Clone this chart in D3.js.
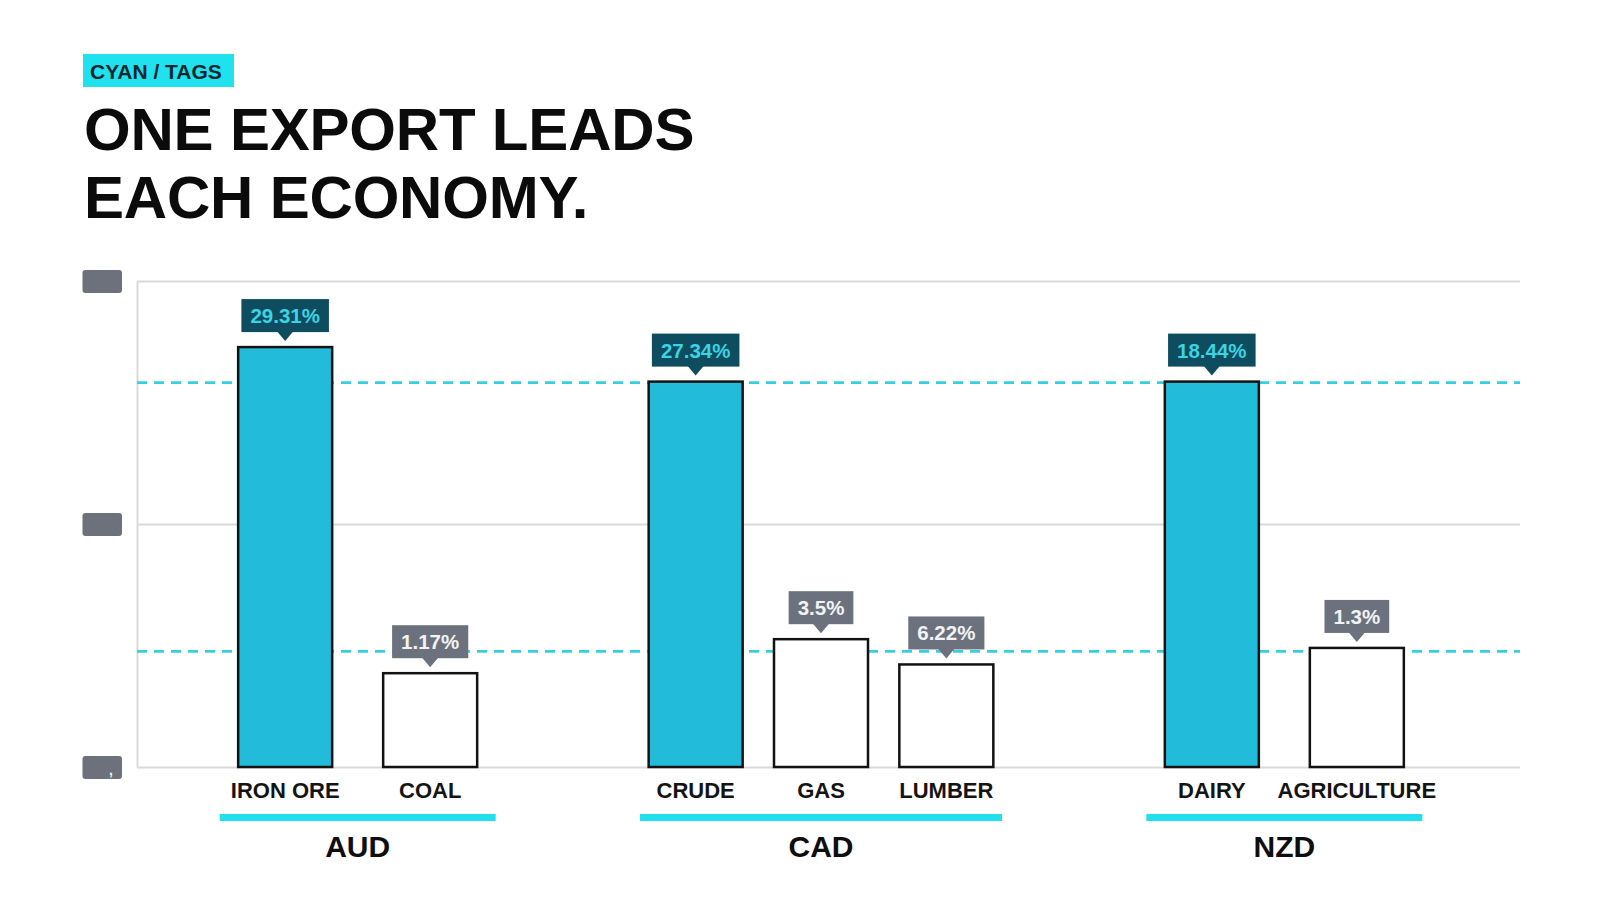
<!DOCTYPE html>
<html>
<head>
<meta charset="utf-8">
<script src="https://cdn.jsdelivr.net/npm/d3@7"></script>
<style>
  body { margin: 0; background: #fff; }
  svg { display: block; }
  text { font-family: "Liberation Sans", Arial, sans-serif; }
</style>
</head>
<body>
<svg id="chart" width="1600" height="914"></svg>
<script>
if (!d3) {
    throw new Error("d3 failed to load");
}

// data
const groups = ["AUD", "CAD", "NZD"];
const items = ["IRON ORE", "COAL", "CRUDE", "GAS", "LUMBER", "DAIRY", "AGRICULTURE"];
const itemGroup = ["AUD", "AUD", "CAD", "CAD", "CAD", "NZD", "NZD"];
const shares = [29.31, 1.17, 27.34, 3.5, 6.22, 18.44, 1.3];      // tag values, %
const barLevels = [86.4, 19.3, 79.3, 26.3, 21.1, 79.3, 24.5];    // drawn height, axis units
const leaders = [true, false, true, false, false, true, false];
const refLines = [79.1, 23.8];
const yTicks = [0, 50, 100];
const yTickLabels = [",", "", ""];

const svg = d3.select("#chart");
const plot = { left: 137, right: 1520, top: 281, bottom: 767 };
const barW = 94;

const y = d3.scaleLinear().domain([0, 100]).range([plot.bottom, plot.top]);
const x0 = d3.scaleBand().domain(groups).range([126, 1516]);

// inner scale for each currency
const inner = {};
groups.forEach(g => {
    const members = items.filter((d, i) => itemGroup[i] === g);
    const c = x0(g) + x0.bandwidth() / 2;
    const w = 118 + 86 * members.length;
    inner[g] = { c: c, w: w, scale: d3.scaleBand().domain(members).range([c - w / 2, c + w / 2]) };
});
const cx = (i) => {
    const s = inner[itemGroup[i]].scale;
    return s(items[i]) + s.bandwidth() / 2;
};

// header
svg.append("rect")
    .attr("x", 83).attr("y", 54).attr("width", 151).attr("height", 33)
    .attr("fill", "#20e2ef");
svg.append("text")
    .attr("x", 90).attr("y", 78.5)
    .attr("font-size", 21).attr("font-weight", "bold")
    .attr("fill", "#10262e")
    .text("CYAN / TAGS");

svg.append("text")
    .attr("font-size", 60).attr("font-weight", "bold")
    .attr("letter-spacing", -0.2)
    .attr("fill", "#0b0b0b")
    .selectAll("tspan")
    .data(["ONE EXPORT LEADS", "EACH ECONOMY."])
    .join("tspan")
    .attr("x", 84)
    .attr("y", (d, i) => 149.5 + i * 68)
    .text(d => d);

// axis + grid
const yAxis = d3.axisLeft(y)
    .tickValues(yTicks)
    .tickSize(-(plot.right - plot.left))
    .tickSizeOuter(0)
    .tickFormat((d, i) => yTickLabels[i]);

const ga = svg.append("g")
    .attr("transform", `translate(${plot.left},0)`)
    .call(yAxis);
ga.select(".domain").attr("stroke", "#dadada").attr("stroke-width", 2);
ga.selectAll(".tick line").attr("stroke", "#dadada").attr("stroke-width", 2);
ga.selectAll(".tick").insert("rect", "text")
    .attr("x", -54.5).attr("y", -11.5)
    .attr("width", 39.5).attr("height", 23).attr("rx", 3)
    .attr("fill", "#6c717b");
ga.selectAll(".tick text")
    .attr("x", -28).attr("dy", "0.55em")
    .attr("text-anchor", "start")
    .attr("font-size", 14).attr("font-weight", "bold")
    .attr("fill", "#f2f3f5");

// reference lines
svg.append("g").selectAll("line")
    .data(refLines)
    .join("line")
    .attr("x1", plot.left).attr("x2", plot.right)
    .attr("y1", d => y(d)).attr("y2", d => y(d))
    .attr("stroke", "#36cfdf").attr("stroke-width", 2.8)
    .attr("stroke-dasharray", "10 7");

// bars
svg.append("g").selectAll("rect")
    .data(items)
    .join("rect")
    .attr("x", (d, i) => cx(i) - barW / 2)
    .attr("y", (d, i) => y(barLevels[i]))
    .attr("width", barW)
    .attr("height", (d, i) => y(0) - y(barLevels[i]))
    .attr("fill", (d, i) => leaders[i] ? "#22bcda" : "#fff")
    .attr("stroke", "#121212").attr("stroke-width", 2.5);

// value tags
const tags = svg.append("g").selectAll("g")
    .data(items)
    .join("g")
    .attr("transform", (d, i) => `translate(${cx(i)},${y(barLevels[i])})`);

tags.append("text")
    .attr("text-anchor", "middle")
    .attr("y", -24)
    .attr("font-size", 20.5).attr("font-weight", "bold")
    .attr("fill", (d, i) => leaders[i] ? "#3ad4e4" : "#f2f3f5")
    .text((d, i) => shares[i] + "%");

tags.each(function(d, i) {
    const g = d3.select(this);
    const tw = g.select("text").node().getComputedTextLength();
    const fill = leaders[i] ? "#0e4c5f" : "#6c727d";
    g.insert("rect", "text")
        .attr("x", -tw / 2 - 9).attr("y", -48)
        .attr("width", tw + 18).attr("height", 33)
        .attr("fill", fill);
    g.insert("path", "text")
        .attr("d", "M-8,-15.5L8,-15.5L0,-6Z")
        .attr("fill", fill);
});

// item labels
svg.append("g").selectAll("text")
    .data(items)
    .join("text")
    .attr("x", (d, i) => cx(i))
    .attr("y", 798)
    .attr("text-anchor", "middle")
    .attr("font-size", 22).attr("font-weight", "bold")
    .attr("fill", "#141414")
    .text(d => d);

// currency groups
svg.append("g").selectAll("rect")
    .data(groups)
    .join("rect")
    .attr("x", g => inner[g].c - (inner[g].w - 14) / 2)
    .attr("y", 814)
    .attr("width", g => inner[g].w - 14)
    .attr("height", 7)
    .attr("fill", "#22dfed");

svg.append("g").selectAll("text")
    .data(groups)
    .join("text")
    .attr("x", g => inner[g].c)
    .attr("y", 857)
    .attr("text-anchor", "middle")
    .attr("font-size", 30).attr("font-weight", "bold")
    .attr("fill", "#0e0e0e")
    .text(g => g);
</script>
</body>
</html>
